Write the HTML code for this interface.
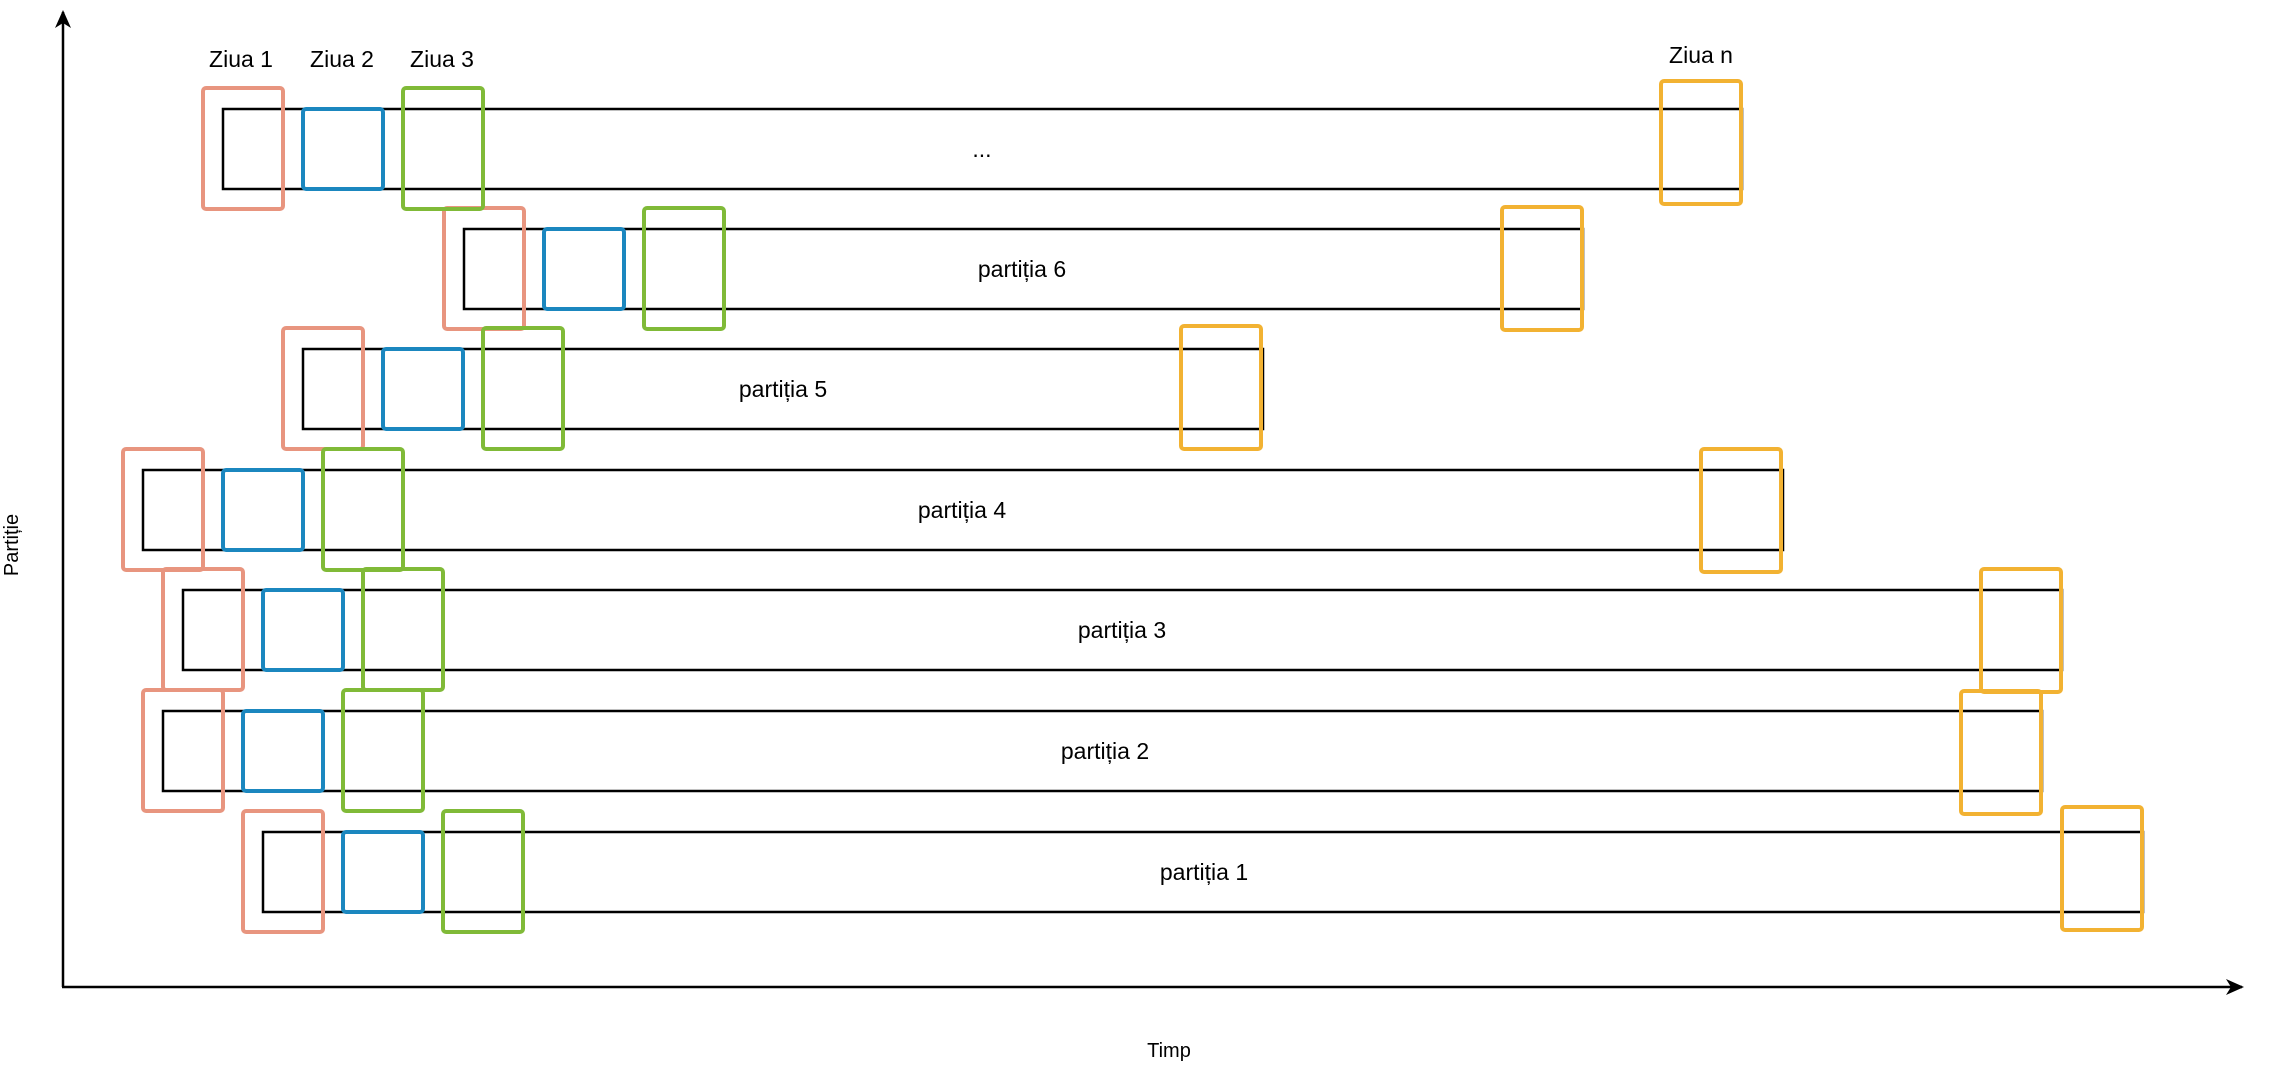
<!DOCTYPE html>
<html><head><meta charset="utf-8"><style>
html,body{margin:0;padding:0;background:#fff;}
svg{display:block;}
text{font-family:"Liberation Sans",Arial,sans-serif;fill:#000;}
</style></head><body>
<svg width="2269" height="1074" viewBox="0 0 2269 1074" xmlns="http://www.w3.org/2000/svg">
<defs>
<marker id="ah" markerWidth="18" markerHeight="16" refX="16" refY="8" orient="auto" markerUnits="userSpaceOnUse">
<path d="M0,0 L18,8 L0,16 L5,8 Z" fill="#000"/>
</marker>
</defs>
<line x1="63" y1="987" x2="63" y2="12" stroke="#000" stroke-width="2.5" marker-end="url(#ah)"/>
<line x1="62" y1="987" x2="2242" y2="987" stroke="#000" stroke-width="2.5" marker-end="url(#ah)"/>
<text x="1169" y="1057" font-size="20" text-anchor="middle">Timp</text>
<text x="0" y="0" font-size="20" text-anchor="middle" transform="translate(18,545) rotate(-90)">Partiție</text>

<text x="241" y="67" font-size="23" text-anchor="middle">Ziua 1</text>
<text x="342" y="67" font-size="23" text-anchor="middle">Ziua 2</text>
<text x="442" y="67" font-size="23" text-anchor="middle">Ziua 3</text>
<text x="1701" y="63" font-size="23" text-anchor="middle">Ziua n</text>

<g fill="none" stroke-width="2.5" stroke="#000">
<rect x="223" y="109" width="1519" height="80"/>
<rect x="464" y="229" width="1119" height="80"/>
<rect x="303" y="349" width="960" height="80"/>
<rect x="143" y="470" width="1640" height="80"/>
<rect x="183" y="590" width="1879" height="80"/>
<rect x="163" y="711" width="1879" height="80"/>
<rect x="263" y="832" width="1880" height="80"/>
</g>

<g font-size="23" text-anchor="middle">
<text x="982" y="157">...</text>
<text x="1022" y="277">partiția 6</text>
<text x="783" y="397">partiția 5</text>
<text x="962" y="518">partiția 4</text>
<text x="1122" y="638">partiția 3</text>
<text x="1105" y="759">partiția 2</text>
<text x="1204" y="880">partiția 1</text>
</g>

<g fill="none" stroke="#E8957F" stroke-width="4">
<rect x="203" y="88" width="80" height="121" rx="3"/>
<rect x="444" y="208" width="80" height="121" rx="3"/>
<rect x="283" y="328" width="80" height="121" rx="3"/>
<rect x="123" y="449" width="80" height="121" rx="3"/>
<rect x="163" y="569" width="80" height="121" rx="3"/>
<rect x="143" y="690" width="80" height="121" rx="3"/>
<rect x="243" y="811" width="80" height="121" rx="3"/>
</g>
<g fill="none" stroke="#1B87BF" stroke-width="4">
<rect x="303" y="109" width="80" height="80" rx="3"/>
<rect x="544" y="229" width="80" height="80" rx="3"/>
<rect x="383" y="349" width="80" height="80" rx="3"/>
<rect x="223" y="470" width="80" height="80" rx="3"/>
<rect x="263" y="590" width="80" height="80" rx="3"/>
<rect x="243" y="711" width="80" height="80" rx="3"/>
<rect x="343" y="832" width="80" height="80" rx="3"/>
</g>
<g fill="none" stroke="#80BA38" stroke-width="4">
<rect x="403" y="88" width="80" height="121" rx="3"/>
<rect x="644" y="208" width="80" height="121" rx="3"/>
<rect x="483" y="328" width="80" height="121" rx="3"/>
<rect x="323" y="449" width="80" height="121" rx="3"/>
<rect x="363" y="569" width="80" height="121" rx="3"/>
<rect x="343" y="690" width="80" height="121" rx="3"/>
<rect x="443" y="811" width="80" height="121" rx="3"/>
</g>
<g fill="none" stroke="#F2B232" stroke-width="4">
<rect x="1661" y="81" width="80" height="123" rx="3"/>
<rect x="1502" y="207" width="80" height="123" rx="3"/>
<rect x="1181" y="326" width="80" height="123" rx="3"/>
<rect x="1701" y="449" width="80" height="123" rx="3"/>
<rect x="1981" y="569" width="80" height="123" rx="3"/>
<rect x="1961" y="691" width="80" height="123" rx="3"/>
<rect x="2062" y="807" width="80" height="123" rx="3"/>
</g>
</svg>
</body></html>
